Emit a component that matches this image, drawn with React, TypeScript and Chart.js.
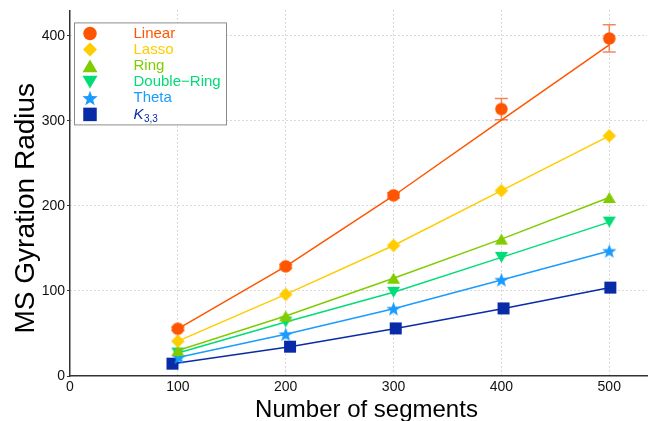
import React, { useEffect, useRef } from "react";
import { Chart, registerables } from "chart.js";

Chart.register(...registerables);

const FONT = "'Liberation Sans', Arial, Helvetica, sans-serif";

// Chain lengths (x positions of each series' markers)
const segments = [100, 200, 300, 400, 500];
const thetaSegments = [101, 200, 300, 400, 500];
const k33Segments = [95, 204, 302, 402, 501];

// Mean-square gyration radius per topology
const linearRadius = [55.5, 129, 212.5, 314, 397];
const linearError = [2, 2.5, 3, 12.5, 16];
const linearFit = [55.5, 129, 212, 301, 389.5];
const lassoRadius = [41, 96, 153.5, 218, 282.5];
const ringRadius = [30, 70.5, 115, 161, 210];
const doubleRingRadius = [27, 63.5, 98.5, 139.5, 181];
const thetaRadius = [22, 49, 79, 113, 147];
const k33Radius = [14.5, 34.5, 56, 79.5, 104];

const seriesNames = ["Linear", "Lasso", "Ring", "Double\u2212Ring", "Theta", "K"];
const seriesColors = ["#ff5500", "#ffcc00", "#80cc00", "#00dd77", "#1a9bff", "#0a2ba8"];
type Shape = "circle" | "diamond" | "triUp" | "triDown" | "star" | "square";
const seriesShapes: Shape[] = ["circle", "diamond", "triUp", "triDown", "star", "square"];
const markerSizes = [12.5, 13.5, 13, 13, 15, 12];
const legendMarkerSizes = [13.5, 14, 15, 15, 16, 13.5];
const errorColor = "#f4875a";

const xTitle = "Number of segments";
const yTitle = "MS Gyration Radius";
const xMax = 535;
const yMax = 430;
const tickStep = 100;

function traceShape(ctx: CanvasRenderingContext2D, shape: Shape, cx: number, cy: number, s: number) {
  const r = s / 2;
  ctx.beginPath();
  switch (shape) {
    case "circle":
      ctx.arc(cx, cy, r, 0, Math.PI * 2);
      break;
    case "diamond":
      ctx.moveTo(cx, cy - r);
      ctx.lineTo(cx + r, cy);
      ctx.lineTo(cx, cy + r);
      ctx.lineTo(cx - r, cy);
      break;
    case "triUp": {
      const h = r * 0.85;
      ctx.moveTo(cx, cy - h);
      ctx.lineTo(cx + r, cy + h);
      ctx.lineTo(cx - r, cy + h);
      break;
    }
    case "triDown": {
      const h = r * 0.85;
      ctx.moveTo(cx, cy + h);
      ctx.lineTo(cx + r, cy - h);
      ctx.lineTo(cx - r, cy - h);
      break;
    }
    case "star":
      for (let i = 0; i < 10; i++) {
        const a = -Math.PI / 2 + (i * Math.PI) / 5;
        const rr = i % 2 ? r * 0.42 : r;
        const px = cx + rr * Math.cos(a);
        const py = cy + rr * Math.sin(a) + r * 0.08;
        if (i === 0) ctx.moveTo(px, py);
        else ctx.lineTo(px, py);
      }
      break;
    case "square":
      ctx.rect(cx - r, cy - r, 2 * r, 2 * r);
      break;
  }
  ctx.closePath();
}

function makeMarker(shape: Shape, color: string, size: number): HTMLCanvasElement {
  const c = document.createElement("canvas");
  const d = Math.ceil(size + 4);
  c.width = d;
  c.height = d;
  const g = c.getContext("2d")!;
  g.fillStyle = color;
  traceShape(g, shape, d / 2, d / 2, size);
  g.fill();
  return c;
}

const toPoints = (xs: number[], ys: number[]) => xs.map((x, i) => ({ x, y: ys[i] }));

const errorBarPlugin = {
  id: "errorBars",
  beforeDatasetsDraw(chart: any) {
    const { ctx, scales } = chart;
    const xs = scales.x;
    const ys = scales.y;
    ctx.save();
    ctx.strokeStyle = errorColor;
    ctx.lineWidth = 1.5;
    segments.forEach((s, i) => {
      const px = xs.getPixelForValue(s);
      const top = ys.getPixelForValue(linearRadius[i] + linearError[i]);
      const bot = ys.getPixelForValue(linearRadius[i] - linearError[i]);
      const cap = 6.5;
      ctx.beginPath();
      ctx.moveTo(px, top);
      ctx.lineTo(px, bot);
      ctx.moveTo(px - cap, top);
      ctx.lineTo(px + cap, top);
      ctx.moveTo(px - cap, bot);
      ctx.lineTo(px + cap, bot);
      ctx.stroke();
    });
    ctx.restore();
  },
};

const axisTitlePlugin = {
  id: "axisTitles",
  afterDraw(chart: any) {
    const { ctx, chartArea } = chart;
    ctx.save();
    ctx.fillStyle = "#000";
    ctx.textAlign = "center";
    ctx.textBaseline = "alphabetic";
    ctx.font = `24px ${FONT}`;
    ctx.fillText(xTitle, (chartArea.left + chartArea.right) / 2 + 8, chart.height - 4);
    ctx.translate(34, (chartArea.top + chartArea.bottom) / 2 + 15);
    ctx.rotate(-Math.PI / 2);
    ctx.font = `28px ${FONT}`;
    ctx.fillText(yTitle, 0, 0);
    ctx.restore();
  },
};

const legendPlugin = {
  id: "topologyLegend",
  afterDraw(chart: any) {
    const { ctx, chartArea } = chart;
    const bx = chartArea.left + 4.5;
    const by = chartArea.top + 12.5;
    const bw = 152;
    const bh = 102;
    ctx.save();
    ctx.fillStyle = "#ffffff";
    ctx.fillRect(bx, by, bw, bh);
    ctx.strokeStyle = "#8c8c8c";
    ctx.lineWidth = 1;
    ctx.strokeRect(bx, by, bw, bh);
    const rowH = 16.2;
    seriesNames.forEach((name, i) => {
      const cy = by + 10.5 + i * rowH;
      ctx.fillStyle = seriesColors[i];
      traceShape(ctx, seriesShapes[i], bx + 15.5, cy, legendMarkerSizes[i]);
      ctx.fill();
      ctx.textBaseline = "middle";
      ctx.textAlign = "left";
      const tx = bx + 59;
      if (i === seriesNames.length - 1) {
        ctx.font = `italic 15px ${FONT}`;
        ctx.fillText(name, tx, cy);
        const w = ctx.measureText(name).width;
        ctx.font = `10px ${FONT}`;
        ctx.fillText("3,3", tx + w + 0.5, cy + 5);
      } else {
        ctx.font = `15px ${FONT}`;
        ctx.fillText(name, tx, cy);
      }
    });
    ctx.restore();
  },
};

export default function App() {
  const canvasRef = useRef<HTMLCanvasElement | null>(null);

  useEffect(() => {
    if (!canvasRef.current) return;
    const markers = seriesShapes.map((s, i) => makeMarker(s, seriesColors[i], markerSizes[i]));
    const seriesX = [segments, segments, segments, segments, thetaSegments, k33Segments];
    const seriesY = [linearRadius, lassoRadius, ringRadius, doubleRingRadius, thetaRadius, k33Radius];

    // image markers ignore the radius, so keep it tiny to avoid extra layout padding
    const pointOpts = (i: number) => ({
      pointStyle: markers[i],
      pointRadius: 0.5,
      pointHoverRadius: 0.5,
      pointBorderWidth: 0,
      pointHoverBorderWidth: 0,
    });

    const lineDataset = (i: number) => ({
      label: seriesNames[i],
      data: toPoints(seriesX[i], seriesY[i]),
      showLine: true,
      borderColor: seriesColors[i],
      backgroundColor: seriesColors[i],
      borderWidth: 1.5,
      clip: false,
      ...pointOpts(i),
    });

    const datasets: any[] = [
      {
        label: seriesNames[0],
        data: toPoints(segments, linearRadius),
        showLine: false,
        borderColor: seriesColors[0],
        backgroundColor: seriesColors[0],
        borderWidth: 0,
        clip: false,
        ...pointOpts(0),
      },
      {
        label: "Linear fit",
        data: toPoints(segments, linearFit),
        showLine: true,
        borderColor: seriesColors[0],
        borderWidth: 1.5,
        pointRadius: 0,
        pointHoverRadius: 0,
        pointBorderWidth: 0,
        pointHoverBorderWidth: 0,
        clip: false,
      },
      lineDataset(1),
      lineDataset(2),
      lineDataset(3),
      lineDataset(4),
      lineDataset(5),
    ];

    const gridColor = (c: any) => (c.tick && c.tick.value === 0 ? "rgba(0,0,0,0)" : "#b4b4b4");

    const chart = new Chart(canvasRef.current, {
      type: "scatter",
      data: { datasets },
      plugins: [errorBarPlugin, legendPlugin, axisTitlePlugin],
      options: {
        animation: false,
        responsive: true,
        maintainAspectRatio: false,
        layout: { padding: { top: 9, right: 1, left: 0, bottom: 0 } },
        plugins: {
          legend: { display: false },
          tooltip: { enabled: false },
        },
        scales: {
          x: {
            type: "linear",
            min: 0,
            max: xMax,
            afterFit: (s: any) => {
              s.height = 45;
            },
            ticks: {
              stepSize: tickStep,
              includeBounds: false,
              color: "#111",
              font: { family: FONT, size: 14 },
              padding: 3,
              maxRotation: 0,
            },
            grid: { color: gridColor, lineWidth: 1, drawTicks: false },
            border: { display: true, color: "#333", width: 1.5, dash: [1, 3] },
          },
          y: {
            type: "linear",
            min: 0,
            max: yMax,
            afterFit: (s: any) => {
              s.width = 70;
            },
            ticks: {
              stepSize: tickStep,
              includeBounds: false,
              color: "#111",
              font: { family: FONT, size: 14 },
              padding: 2,
            },
            grid: { color: gridColor, lineWidth: 1, drawTicks: true, tickLength: 3, tickColor: "#333" },
            border: { display: true, color: "#333", width: 1.5, dash: [1, 3] },
          },
        },
      },
    });
    return () => chart.destroy();
  }, []);

  return (
    <div style={{ position: "fixed", left: 0, top: 0, width: 648, height: 421, background: "#fff" }}>
      <canvas ref={canvasRef} />
    </div>
  );
}
